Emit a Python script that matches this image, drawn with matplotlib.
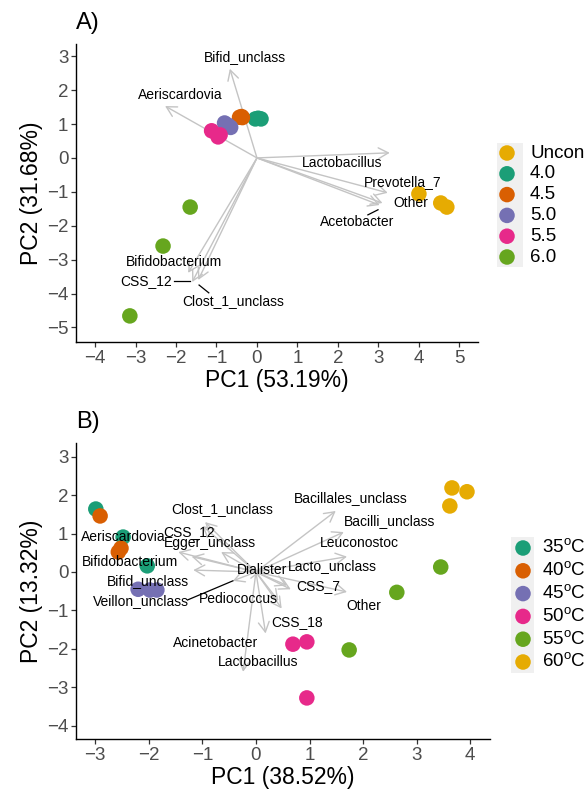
import matplotlib
matplotlib.use("Agg")
import matplotlib.pyplot as plt
from matplotlib.patches import Rectangle

plt.rcParams['font.family'] = ['Liberation Sans', 'DejaVu Sans']
plt.rcParams['mathtext.fontset'] = 'custom'
plt.rcParams['mathtext.rm'] = 'Liberation Sans'

# ---------------- Panel A data ----------------
groupsA = ['Uncon', '4.0', '4.5', '5.0', '5.5', '6.0']
colorsA = ['#E6AB02', '#1B9E77', '#D95F02', '#7570B3', '#E7298A', '#66A61E']
A_x = {
    'Uncon': [4.00, 4.54, 4.69],
    '4.0': [-0.04, 0.03, 0.10],
    '4.5': [-0.43, -0.38, -0.36],
    '5.0': [-0.80, -0.72, -0.65],
    '5.5': [-1.12, -0.91, -0.96],
    '6.0': [-1.65, -2.32, -3.14],
}
A_y = {
    'Uncon': [-1.06, -1.33, -1.45],
    '4.0': [1.15, 1.17, 1.15],
    '4.5': [1.20, 1.22, 1.19],
    '5.0': [1.03, 0.97, 0.90],
    '5.5': [0.80, 0.68, 0.62],
    '6.0': [-1.45, -2.60, -4.66],
}
loadA_names = ['Bifid_unclass', 'Aeriscardovia', 'Lactobacillus', 'Prevotella_7', 'Other',
               'Acetobacter', 'Bifidobacterium', 'CSS_12', 'Clost_1_unclass']
loadA_x = [-0.67, -2.27, 3.28, 3.23, 3.10, 3.03, -1.70, -1.60, -1.45]
loadA_y = [2.63, 1.53, 0.15, -1.03, -1.33, -1.39, -3.39, -3.66, -3.60]
labA_x = [-0.30, -1.90, 2.10, 3.60, 3.80, 2.47, -2.05, -2.74, -0.58]
labA_y = [2.98, 1.86, -0.15, -0.70, -1.33, -1.89, -3.07, -3.63, -4.22]
segA = [((-2.05, -3.63), (-1.65, -3.63)),
        ((-1.43, -3.75), (-1.19, -3.98)),
        ((2.74, -1.68), (2.99, -1.53))]

# ---------------- Panel B data ----------------
groupsB = ['35$^{\\mathrm{o}}$C', '40$^{\\mathrm{o}}$C', '45$^{\\mathrm{o}}$C',
           '50$^{\\mathrm{o}}$C', '55$^{\\mathrm{o}}$C', '60$^{\\mathrm{o}}$C']
colorsB = ['#1B9E77', '#D95F02', '#7570B3', '#E7298A', '#66A61E', '#E6AB02']
B_x = [[-2.99, -2.48, -2.03], [-2.91, -2.52, -2.57], [-2.20, -1.98, -1.85],
       [0.69, 0.95, 0.95], [2.63, 1.74, 3.45], [3.66, 3.94, 3.62]]
B_y = [[1.64, 0.91, 0.16], [1.46, 0.62, 0.52], [-0.45, -0.47, -0.47],
       [-1.88, -1.82, -3.28], [-0.53, -2.03, 0.13], [2.19, 2.09, 1.72]]
loadB_names = ['Clost_1_unclass', 'CSS_12', 'Egger_unclass', 'Aeriscardovia', 'Bifidobacterium',
               'Bifid_unclass', 'Veillon_unclass', 'Dialister', 'Pediococcus', 'Acinetobacter',
               'Lactobacillus', 'CSS_18', 'Other', 'CSS_7', 'Lacto_unclass', 'Leuconostoc',
               'Bacilli_unclass', 'Bacillales_unclass']
loadB_x = [-0.95, -1.00, -0.65, -1.45, -1.20, -1.17, -0.43, 0.10, 0.42, 0.18,
           -0.24, 0.48, 1.70, 0.65, 0.58, 1.70, 1.64, 1.49]
loadB_y = [1.30, 1.20, 0.52, 0.52, 0.40, 0.05, -0.23, 0.02, -0.75, -1.60,
           -2.60, -0.95, -0.52, -0.45, -0.35, 0.40, 1.04, 1.59]
labB_x = [-0.63, -1.25, -0.86, -2.48, -2.35, -2.01, -2.15, 0.12, -0.33, -0.75,
          0.04, 0.77, 2.02, 1.16, 1.42, 1.94, 2.50, 1.77]
labB_y = [1.64, 1.04, 0.76, 0.91, 0.26, -0.23, -0.75, 0.05, -0.70, -1.85,
          -2.34, -1.30, -0.88, -0.36, 0.16, 0.75, 1.33, 1.93]
segB = [((-1.28, -0.73), (-0.43, -0.23))]

W, H = 587, 791
fig = plt.figure(figsize=(W / 100, H / 100), dpi=100)

def px_axes(l, t, r, b):
    return fig.add_axes([l / W, 1 - b / H, (r - l) / W, (b - t) / H])

axA = px_axes(76, 44, 478, 342)
axB = px_axes(76, 443, 490, 739)

arrow_col = '#C4C4C4'

def style(ax, xlim, ylim, xticks, yticks, xlabel, ylabel):
    ax.set_xlim(*xlim)
    ax.set_ylim(*ylim)
    ax.set_xticks(xticks)
    ax.set_yticks(yticks)
    ax.set_xticklabels([str(t).replace('-', '\u2212') for t in xticks])
    ax.set_yticklabels([str(t).replace('-', '\u2212') for t in yticks])
    for s in ['top', 'right']:
        ax.spines[s].set_visible(False)
    for s in ['left', 'bottom']:
        ax.spines[s].set_color('black')
        ax.spines[s].set_linewidth(1.0)
    ax.tick_params(axis='both', colors='#333333', labelcolor='#4D4D4D',
                   labelsize=13.5, length=3.5, width=0.9, pad=2)
    ax.set_xlabel(xlabel, fontsize=16.5, labelpad=2)
    ax.set_ylabel(ylabel, fontsize=16.5, labelpad=3)

def draw_arrows(ax, xs, ys):
    for x, y in zip(xs, ys):
        ax.annotate('', xy=(x, y), xytext=(0, 0),
                    arrowprops=dict(arrowstyle='->,head_length=0.55,head_width=0.3',
                                    color=arrow_col, lw=1.0, shrinkA=0, shrinkB=0,
                                    mutation_scale=13), zorder=1)

# Panel A
draw_arrows(axA, loadA_x, loadA_y)
for g, c in zip(groupsA, colorsA):
    axA.scatter(A_x[g], A_y[g], s=125, color=c, edgecolors='none', zorder=3)
for n, x, y in zip(loadA_names, labA_x, labA_y):
    axA.text(x, y, n, fontsize=10, ha='center', va='center', color='black', zorder=4)
for (p0, p1) in segA:
    axA.plot([p0[0], p1[0]], [p0[1], p1[1]], color='black', lw=0.9, zorder=4)
style(axA, (-4.47, 5.46), (-5.43, 3.36), [-4, -3, -2, -1, 0, 1, 2, 3, 4, 5],
      [-5, -4, -3, -2, -1, 0, 1, 2, 3], 'PC1 (53.19%)', 'PC2 (31.68%)')

# Panel B
draw_arrows(axB, loadB_x, loadB_y)
for xs, ys, c in zip(B_x, B_y, colorsB):
    axB.scatter(xs, ys, s=125, color=c, edgecolors='none', zorder=3)
for n, x, y in zip(loadB_names, labB_x, labB_y):
    axB.text(x, y, n, fontsize=10, ha='center', va='center', color='black', zorder=4)
for (p0, p1) in segB:
    axB.plot([p0[0], p1[0]], [p0[1], p1[1]], color='black', lw=0.9, zorder=4)
style(axB, (-3.36, 4.37), (-4.35, 3.36), [-3, -2, -1, 0, 1, 2, 3, 4],
      [-4, -3, -2, -1, 0, 1, 2, 3], 'PC1 (38.52%)', 'PC2 (13.32%)')

fig.text(76 / W, 1 - 23 / H, 'A)', fontsize=17, ha='left', va='center')
fig.text(76 / W, 1 - 422 / H, 'B)', fontsize=17, ha='left', va='center')

# Legends (overlay axes in pixel coordinates)
leg = fig.add_axes([0, 0, 1, 1])
leg.set_xlim(0, W)
leg.set_ylim(H, 0)
leg.axis('off')

def legend(labels, colors, key_x, y0, step, box_l, box_r, text_x):
    n = len(labels)
    leg.add_patch(Rectangle((box_l, y0 - step / 2), box_r - box_l, step * n,
                            facecolor='#F0F0F0', edgecolor='none'))
    for i, (lab, c) in enumerate(zip(labels, colors)):
        y = y0 + i * step
        leg.scatter([key_x], [y], s=125, color=c, edgecolors='none')
        leg.text(text_x, y, lab, fontsize=13.5, va='center', ha='left')

legend(groupsA, colorsA, 507, 153, 20.8, 497, 523, 530)
legend(groupsB, colorsB, 523, 548, 22.8, 511, 534, 542)

fig.savefig('out.png', dpi=100)
